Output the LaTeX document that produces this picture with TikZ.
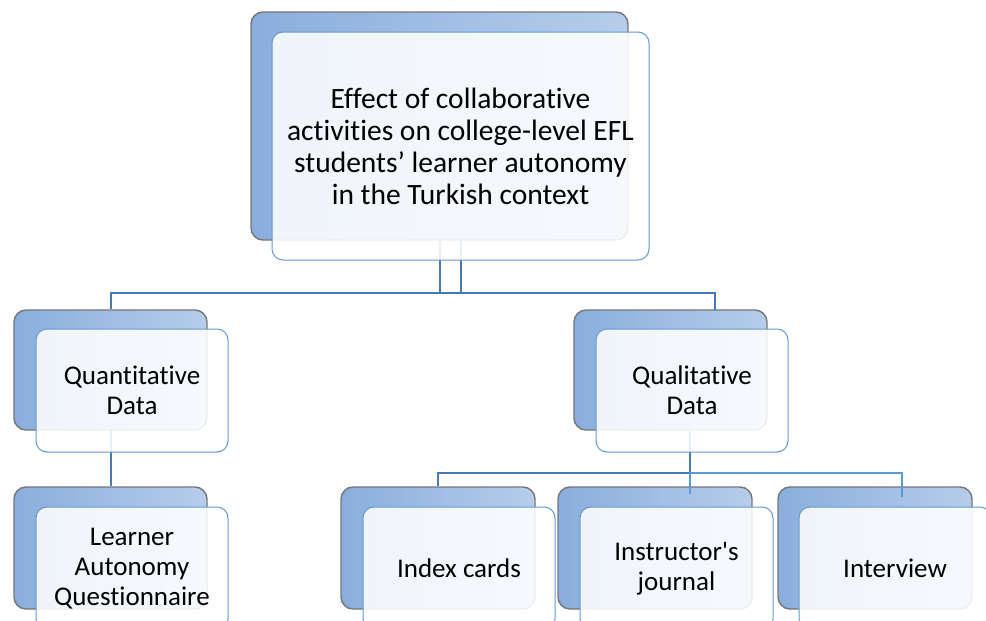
\documentclass[tikz,border=0pt]{standalone}
\usepackage{fontspec}
\setmainfont{Carlito}[Ligatures={NoCommon,TeXOff}]
\begin{document}
\begin{tikzpicture}[x=1pt,y=-1pt]
\definecolor{backedge}{RGB}{118,118,118}
\definecolor{backdark}{RGB}{138,174,221}
\definecolor{backlight}{RGB}{182,205,235}
\definecolor{frontedge}{RGB}{98,153,214}
\definecolor{linkdark}{RGB}{70,122,182}
\definecolor{linklight}{RGB}{91,155,213}
\tikzset{
  backbox/.style={rectangle, draw=backedge, line width=1.4pt, rounded corners=12pt,
    left color=backdark, right color=backlight, inner sep=0pt},
  frontbox/.style={rectangle, draw=frontedge, line width=1pt, rounded corners=11pt,
    fill=white, fill opacity=0.88, text opacity=1, inner sep=0pt, align=center},
  bigtext/.style={font=\fontsize{29.5}{32}\selectfont},
  smalltext/.style={font=\fontsize{27}{30}\selectfont},
  thicklink/.style={draw=linkdark, line width=2pt},
  thinlink/.style={draw=linklight, line width=1.2pt},
}
\useasboundingbox (0,0) rectangle (986,621);
\clip (0,0) rectangle (986,621);
\fill[white] (0,0) rectangle (986,621);

% back boxes
\node[backbox, minimum width=377pt, minimum height=228pt] (topB) at (439.5,126) {};
\node[backbox, minimum width=193pt, minimum height=120pt] (quantB) at (110.5,370) {};
\node[backbox, minimum width=193pt, minimum height=120pt] (qualB) at (670.5,370) {};
\node[backbox, minimum width=193pt, minimum height=122pt] (laqB) at (110.5,548) {};
\node[backbox, minimum width=194pt, minimum height=122pt] (idxB) at (438,548) {};
\node[backbox, minimum width=194pt, minimum height=122pt] (insB) at (655,548) {};
\node[backbox, minimum width=194pt, minimum height=122pt] (intB) at (875,548) {};

% junction coordinates
\coordinate (jTopL) at (439.5,293);
\coordinate (jTopR) at (460.5,293);
\coordinate (topRstart) at (460.5,240);
\coordinate (qualIn) at (715,310);
\coordinate (jQual) at (690,473);
\coordinate (insIn) at (690,494);
\coordinate (intIn) at (902,497);

% connectors
\draw[thicklink] (topB.south) -- (jTopL) -| (quantB.north);
\draw[thicklink] (topRstart) -- (jTopR) -| (qualIn);
\draw[thicklink] (jTopL) -- (jTopR);
\draw[thicklink] (quantB.south) -- (laqB.north);
\draw[thicklink] (qualB.south -| jQual) -- (jQual) -| (idxB.north);
\draw[thinlink] (jQual) -- (insIn);
\draw[thinlink] (jQual) -| (intIn);

% front boxes
\node[frontbox, bigtext, minimum width=377pt, minimum height=228pt] (topF) at (460.5,146)
  {Effect of collaborative\\activities on college-level EFL\\students’ learner autonomy\\in the Turkish context};
\node[frontbox, smalltext, minimum width=192pt, minimum height=123pt] (quantF) at (132,390.5)
  {Quantitative\\Data};
\node[frontbox, smalltext, minimum width=192pt, minimum height=123pt] (qualF) at (692,390.5)
  {Qualitative\\Data};
\node[frontbox, smalltext, minimum width=192pt, minimum height=123pt] (laqF) at (132,568.5)
  {Learner\\Autonomy\\Questionnaire};
\node[frontbox, smalltext, minimum width=192pt, minimum height=123pt] (idxF) at (459,568.5)
  {Index cards};
\node[frontbox, smalltext, minimum width=193pt, minimum height=123pt] (insF) at (676.5,568.5)
  {Instructor's\\journal};
\node[frontbox, smalltext, minimum width=192pt, minimum height=123pt] (intF) at (895,568.5)
  {Interview};
\end{tikzpicture}
\end{document}
